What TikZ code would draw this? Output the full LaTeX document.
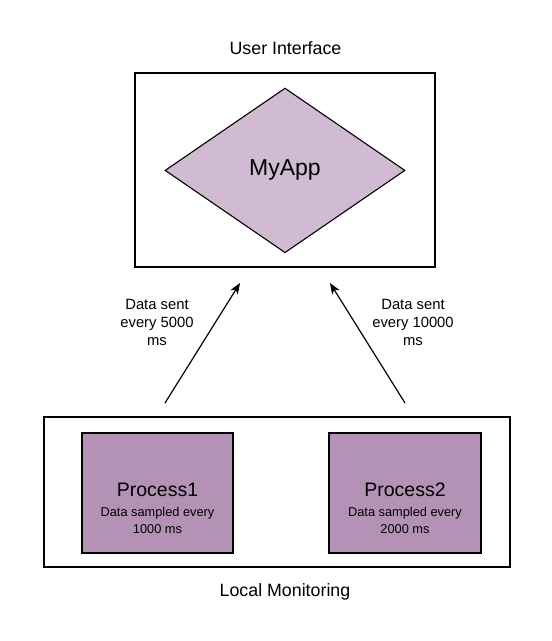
\documentclass[tikz,border=0pt]{standalone}
\usepackage{fontspec}
\setmainfont{Liberation Sans}
\usetikzlibrary{shapes.geometric,arrows.meta}
\definecolor{diamfill}{RGB}{209,187,210}
\definecolor{procfill}{RGB}{180,146,181}
\begin{document}
\begin{tikzpicture}[x=1pt,y=-1pt,
  frame/.style={draw=black,line width=2pt,inner sep=0pt,rectangle},
  procbox/.style={draw=black,line width=2pt,fill=procfill,inner sep=0pt,rectangle,minimum height=120.6pt},
  appshape/.style={draw=black,line width=1.1pt,fill=diamfill,diamond,inner sep=0pt,minimum width=240pt,minimum height=164.7pt,font=\fontsize{23}{27}\selectfont},
  title/.style={anchor=base,inner sep=0pt,font=\fontsize{17.8}{21}\selectfont},
  proctitle/.style={anchor=base,inner sep=0pt,font=\fontsize{19.5}{23}\selectfont},
  procnote/.style={anchor=base,inner sep=0pt,font=\fontsize{12.8}{15}\selectfont},
  flowlabel/.style={anchor=base,inner sep=0pt,font=\fontsize{14.8}{18}\selectfont},
  flowarrow/.style={draw=black,line width=1.2pt,-{Stealth[length=11pt,width=8.5pt,inset=3pt]}}
]
\useasboundingbox (0,0) rectangle (552,641);

% User interface
\node[title] (uititle) at (285.5,54.3) {User Interface};
\node[frame,minimum width=300pt,minimum height=194pt] (uibox) at (285,170) {};
\node[appshape] (myapp) at (285,170.4) {MyApp};

% Local monitoring
\node[frame,minimum width=465.7pt,minimum height=150pt] (lmbox) at (277.2,492.3) {};
\node[title] (lmtitle) at (285,596) {Local Monitoring};

\node[procbox,minimum width=150.4pt] (p1) at (157.5,493) {};
\node[proctitle] (p1t) at (157.5,496.7) {Process1};
\node[procnote] (p1a) at (157.5,516.7) {Data sampled every};
\node[procnote] (p1b) at (157.5,533.3) {1000 ms};

\node[procbox,minimum width=151.4pt] (p2) at (405,493) {};
\node[proctitle] (p2t) at (405,496.7) {Process2};
\node[procnote] (p2a) at (405,516.7) {Data sampled every};
\node[procnote] (p2b) at (405,533.3) {2000 ms};

% arrows
\coordinate (a1s) at (165,403);
\coordinate (a1e) at (240,283);
\coordinate (a2s) at (405,403);
\coordinate (a2e) at (330,283);
\draw[flowarrow] (a1s) -- (a1e);
\draw[flowarrow] (a2s) -- (a2e);

\node[flowlabel] (l1a) at (157,309.3) {Data sent};
\node[flowlabel] (l1b) at (157,327.3) {every 5000};
\node[flowlabel] (l1c) at (157,345) {ms};
\node[flowlabel] (l2a) at (413,309.3) {Data sent};
\node[flowlabel] (l2b) at (413,327.3) {every 10000};
\node[flowlabel] (l2c) at (413,345) {ms};
\end{tikzpicture}
\end{document}
